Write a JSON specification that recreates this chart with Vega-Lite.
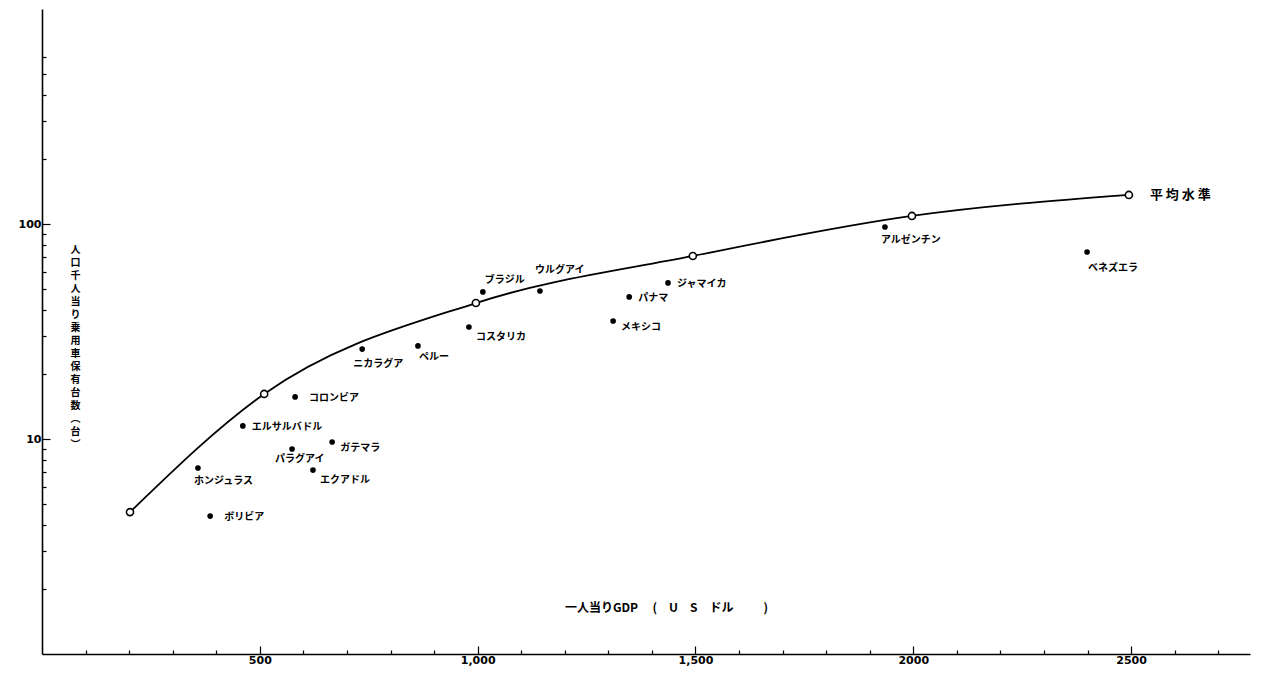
{
  "$schema": "https://vega.github.io/schema/vega-lite/v6.json",
  "width": 1208,
  "height": 645,
  "autosize": {"type": "none"},
  "padding": {"left": 42, "top": 9, "right": 11, "bottom": 26},
  "background": "white",
  "config": {
    "view": {"stroke": null},
    "text": {"font": "Noto Sans CJK JP", "fontSize": 10, "fontWeight": "bold", "color": "black", "align": "left", "baseline": "middle"}
  },
  "datasets": {
    "countries": [
      {"name": "ホンジュラス", "gdp": 358, "cars": 7.33},
      {"name": "ボリビア", "gdp": 386, "cars": 4.38},
      {"name": "エルサルバドル", "gdp": 461, "cars": 11.5},
      {"name": "コロンビア", "gdp": 581, "cars": 15.7},
      {"name": "パラグアイ", "gdp": 574, "cars": 8.98},
      {"name": "ガテマラ", "gdp": 666, "cars": 9.68},
      {"name": "エクアドル", "gdp": 622, "cars": 7.17},
      {"name": "ニカラグア", "gdp": 735, "cars": 26.2},
      {"name": "ペルー", "gdp": 863, "cars": 27.1},
      {"name": "コスタリカ", "gdp": 980, "cars": 33.2},
      {"name": "ブラジル", "gdp": 1012, "cars": 48.3},
      {"name": "ウルグアイ", "gdp": 1143, "cars": 48.8},
      {"name": "パナマ", "gdp": 1348, "cars": 45.8},
      {"name": "メキシコ", "gdp": 1311, "cars": 35.4},
      {"name": "ジャマイカ", "gdp": 1437, "cars": 53.2},
      {"name": "アルゼンチン", "gdp": 1935, "cars": 96.8},
      {"name": "ベネズエラ", "gdp": 2399, "cars": 74.1}
    ],
    "average": [
      {"gdp": 202, "cars": 4.57},
      {"gdp": 510, "cars": 16.2},
      {"gdp": 996, "cars": 42.9},
      {"gdp": 1494, "cars": 71.0},
      {"gdp": 1997, "cars": 109},
      {"gdp": 2495, "cars": 136.5}
    ]
  },
  "encoding": {
    "x": {
      "field": "gdp", "type": "quantitative",
      "scale": {"domain": [0, 2773], "nice": false, "zero": false},
      "axis": {
        "values": [100, 200, 300, 400, 500, 600, 700, 800, 900, 1000, 1100, 1200, 1300, 1400, 1500, 1600, 1700, 1800, 1900, 2000, 2100, 2200, 2300, 2400, 2500, 2600, 2700],
        "labelExpr": "datum.value == 500 ? '500' : datum.value == 1000 ? '1,000' : datum.value == 1500 ? '1,500' : datum.value == 2000 ? '2000' : datum.value == 2500 ? '2500' : ''",
        "tickSize": {"condition": {"test": "datum.value % 500 === 0", "value": -8}, "value": -4},
        "tickColor": "black", "tickWidth": 1.2,
        "domainColor": "black", "domainWidth": 1.6,
        "grid": false,
        "labelFont": "DejaVu Sans", "labelFontWeight": "bold", "labelFontSize": 11, "labelColor": "black",
        "labelPadding": 8,
        "title": "一人当りGDP\u2003\u2009(\u2003U\u2003S\u2003ドル\u2003\u2003\u2002)",
        "titleFont": "Noto Sans CJK JP", "titleFontSize": 12, "titleFontWeight": "bold", "titleColor": "black",
        "titleX": 624, "titleY": -47, "titleBaseline": "middle", "titleAlign": "center"
      }
    },
    "y": {
      "field": "cars", "type": "quantitative",
      "scale": {"type": "log", "domain": [1, 1000], "nice": false},
      "axis": {
        "values": [2, 3, 4, 5, 6, 7, 8, 9, 10, 20, 30, 40, 50, 60, 70, 80, 90, 100, 200, 300, 400, 500, 600],
        "labelExpr": "datum.value == 100 ? '100' : datum.value == 10 ? '10' : ''",
        "tickSize": {"condition": {"test": "datum.value == 10 || datum.value == 100", "value": -8}, "value": -4},
        "tickColor": "black", "tickWidth": 1.2,
        "domainColor": "black", "domainWidth": 1.6,
        "grid": false,
        "labelFont": "DejaVu Sans", "labelFontWeight": "bold", "labelFontSize": 11, "labelColor": "black",
        "labelPadding": 9,
        "title": ["人", "口", "千", "人", "当", "り", "乗", "用", "車", "保", "有", "台", "数", "︵", "台", "︶"],
        "titleFont": "Noto Sans CJK JP", "titleFontSize": 10, "titleFontWeight": "bold", "titleColor": "black",
        "titleAngle": 0, "titleX": 33, "titleY": 235, "titleBaseline": "top", "titleAlign": "center", "titleLineHeight": 13
      }
    }
  },
  "layer": [
    {
      "mark": {"type": "rule", "color": "black", "strokeWidth": 1.6},
      "encoding": {"x": {"datum": -44}, "x2": {"datum": 0}, "y": {"datum": 1}}
    },
    {
      "mark": {"type": "rule", "color": "black", "strokeWidth": 1.6},
      "encoding": {"x": {"datum": 0}, "y": {"datum": 1}, "y2": {"datum": 0.76}}
    },
    {
      "data": {"name": "average"},
      "mark": {"type": "line", "interpolate": "monotone", "color": "black", "strokeWidth": 1.8}
    },
    {
      "data": {"name": "average"},
      "mark": {"type": "point", "filled": true, "fill": "white", "stroke": "black", "strokeWidth": 1.6, "size": 50, "opacity": 1}
    },
    {
      "data": {"name": "average"},
      "transform": [{"filter": "datum.gdp > 2400"}],
      "mark": {"type": "text", "dx": 21, "dy": 0, "fontSize": 13},
      "encoding": {"text": {"value": "平 均 水 準"}}
    },
    {
      "data": {"name": "countries"},
      "mark": {"type": "circle", "color": "black", "size": 32, "opacity": 1}
    },
    {
      "data": {"name": "countries"},
      "transform": [{"filter": {"field": "name", "oneOf": ["エルサルバドル", "ジャマイカ", "パナマ"]}}],
      "mark": {"type": "text", "dx": 9, "dy": 1},
      "encoding": {"text": {"field": "name"}}
    },
    {
      "data": {"name": "countries"},
      "transform": [{"filter": {"field": "name", "oneOf": ["ボリビア", "コロンビア"]}}],
      "mark": {"type": "text", "dx": 14, "dy": 1},
      "encoding": {"text": {"field": "name"}}
    },
    {
      "data": {"name": "countries"},
      "transform": [{"filter": {"field": "name", "oneOf": ["ガテマラ", "メキシコ"]}}],
      "mark": {"type": "text", "dx": 8, "dy": 6},
      "encoding": {"text": {"field": "name"}}
    },
    {
      "data": {"name": "countries"},
      "transform": [{"filter": {"field": "name", "oneOf": ["コスタリカ", "エクアドル"]}}],
      "mark": {"type": "text", "dx": 7, "dy": 10},
      "encoding": {"text": {"field": "name"}}
    },
    {
      "data": {"name": "countries"},
      "transform": [{"filter": {"field": "name", "oneOf": ["ペルー"]}}],
      "mark": {"type": "text", "dx": 1, "dy": 11},
      "encoding": {"text": {"field": "name"}}
    },
    {
      "data": {"name": "countries"},
      "transform": [{"filter": {"field": "name", "oneOf": ["ホンジュラス", "アルゼンチン"]}}],
      "mark": {"type": "text", "dx": -4, "dy": 13},
      "encoding": {"text": {"field": "name"}}
    },
    {
      "data": {"name": "countries"},
      "transform": [{"filter": {"field": "name", "oneOf": ["ニカラグア"]}}],
      "mark": {"type": "text", "dx": -9, "dy": 15},
      "encoding": {"text": {"field": "name"}}
    },
    {
      "data": {"name": "countries"},
      "transform": [{"filter": {"field": "name", "oneOf": ["ベネズエラ"]}}],
      "mark": {"type": "text", "dx": 1, "dy": 16},
      "encoding": {"text": {"field": "name"}}
    },
    {
      "data": {"name": "countries"},
      "transform": [{"filter": {"field": "name", "oneOf": ["パラグアイ"]}}],
      "mark": {"type": "text", "dx": -17, "dy": 10},
      "encoding": {"text": {"field": "name"}}
    },
    {
      "data": {"name": "countries"},
      "transform": [{"filter": {"field": "name", "oneOf": ["ブラジル"]}}],
      "mark": {"type": "text", "dx": 2, "dy": -12},
      "encoding": {"text": {"field": "name"}}
    },
    {
      "data": {"name": "countries"},
      "transform": [{"filter": {"field": "name", "oneOf": ["ウルグアイ"]}}],
      "mark": {"type": "text", "dx": -5, "dy": -21},
      "encoding": {"text": {"field": "name"}}
    }
  ]
}
